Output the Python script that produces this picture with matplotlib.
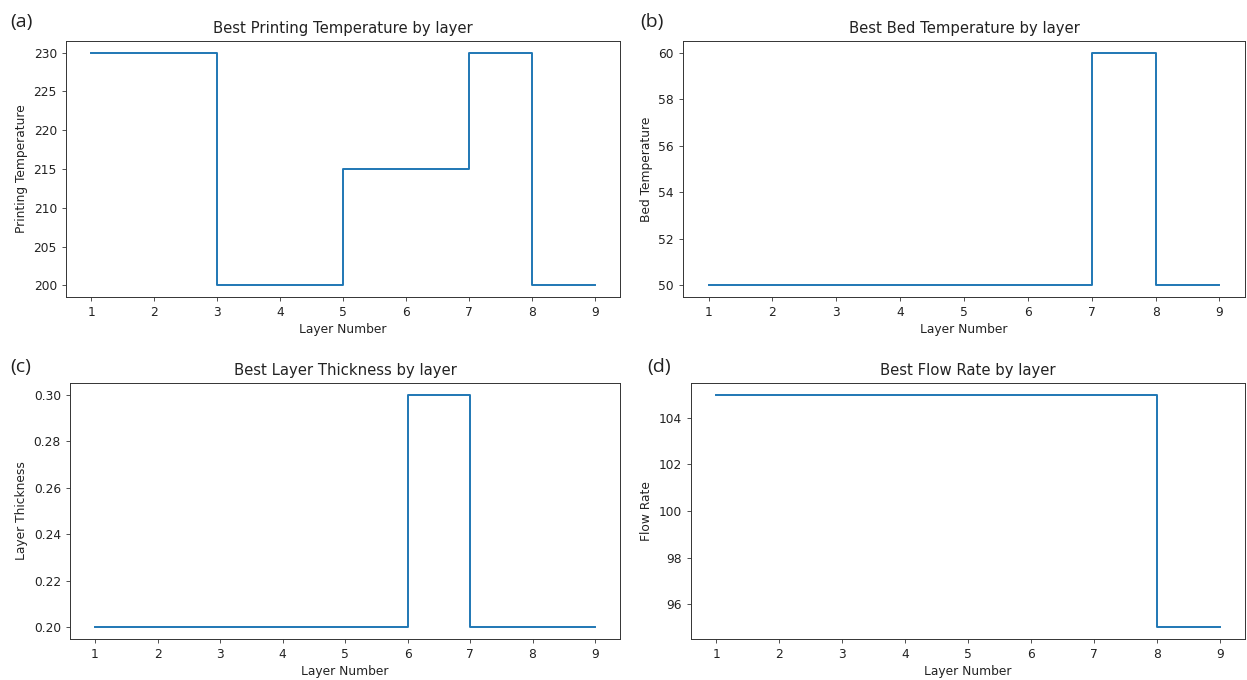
import matplotlib
matplotlib.use("Agg")
import matplotlib.pyplot as plt

# Best parameter found for each printed layer
layers = [1, 2, 3, 4, 5, 6, 7, 8, 9]
printing_temp = [230, 230, 200, 200, 215, 215, 230, 200, 200]
bed_temp = [50, 50, 50, 50, 50, 50, 60, 50, 50]
layer_thickness = [0.20, 0.20, 0.20, 0.20, 0.20, 0.30, 0.20, 0.20, 0.20]
flow_rate = [105, 105, 105, 105, 105, 105, 105, 95, 95]

titles = [
    "Best Printing Temperature by layer",
    "Best Bed Temperature by layer",
    "Best Layer Thickness by layer",
    "Best Flow Rate by layer",
]
ylabels = ["Printing Temperature", "Bed Temperature", "Layer Thickness", "Flow Rate"]
panel_tags = ["(a)", "(b)", "(c)", "(d)"]
series = [printing_temp, bed_temp, layer_thickness, flow_rate]

W, H = 1247, 680
fig = plt.figure(figsize=(W / 100, H / 100), dpi=100)

# axes boxes in pixels: left, top, right, bottom
boxes = [
    (66, 41, 620, 297),
    (683, 41, 1245, 297),
    (70, 383, 620, 639),
    (691, 383, 1245, 639),
]
tag_pos = [(10, 22), (640, 22), (10, 367), (647, 367)]

fs = 8.8
for vals, title, ylab, tag, (l, t, r, b), (tx, ty) in zip(
        series, titles, ylabels, panel_tags, boxes, tag_pos):
    ax = fig.add_axes([l / W, 1 - b / H, (r - l) / W, (b - t) / H])
    ax.step(layers, vals, where="post", color="#1f77b4", linewidth=1.4)
    ax.set_xticks(layers)
    ax.set_title(title, fontsize=10.7, pad=5.5, color="#222222")
    ax.set_xlabel("Layer Number", fontsize=fs, labelpad=3, color="#222222")
    ax.set_ylabel(ylab, fontsize=fs, labelpad=4, color="#222222")
    ax.tick_params(labelsize=fs, length=3, width=0.6, pad=3.5, color="#333333",
                   labelcolor="#222222")
    for s in ax.spines.values():
        s.set_linewidth(0.7)
        s.set_color("#333333")
    if ylab == "Layer Thickness":
        ax.yaxis.set_major_formatter(matplotlib.ticker.FormatStrFormatter("%.2f"))
    fig.text(tx / W, 1 - ty / H, tag, fontsize=14, family="Open Sans",
             ha="left", va="center", color="#222222")

fig.savefig("out.png", dpi=100)
